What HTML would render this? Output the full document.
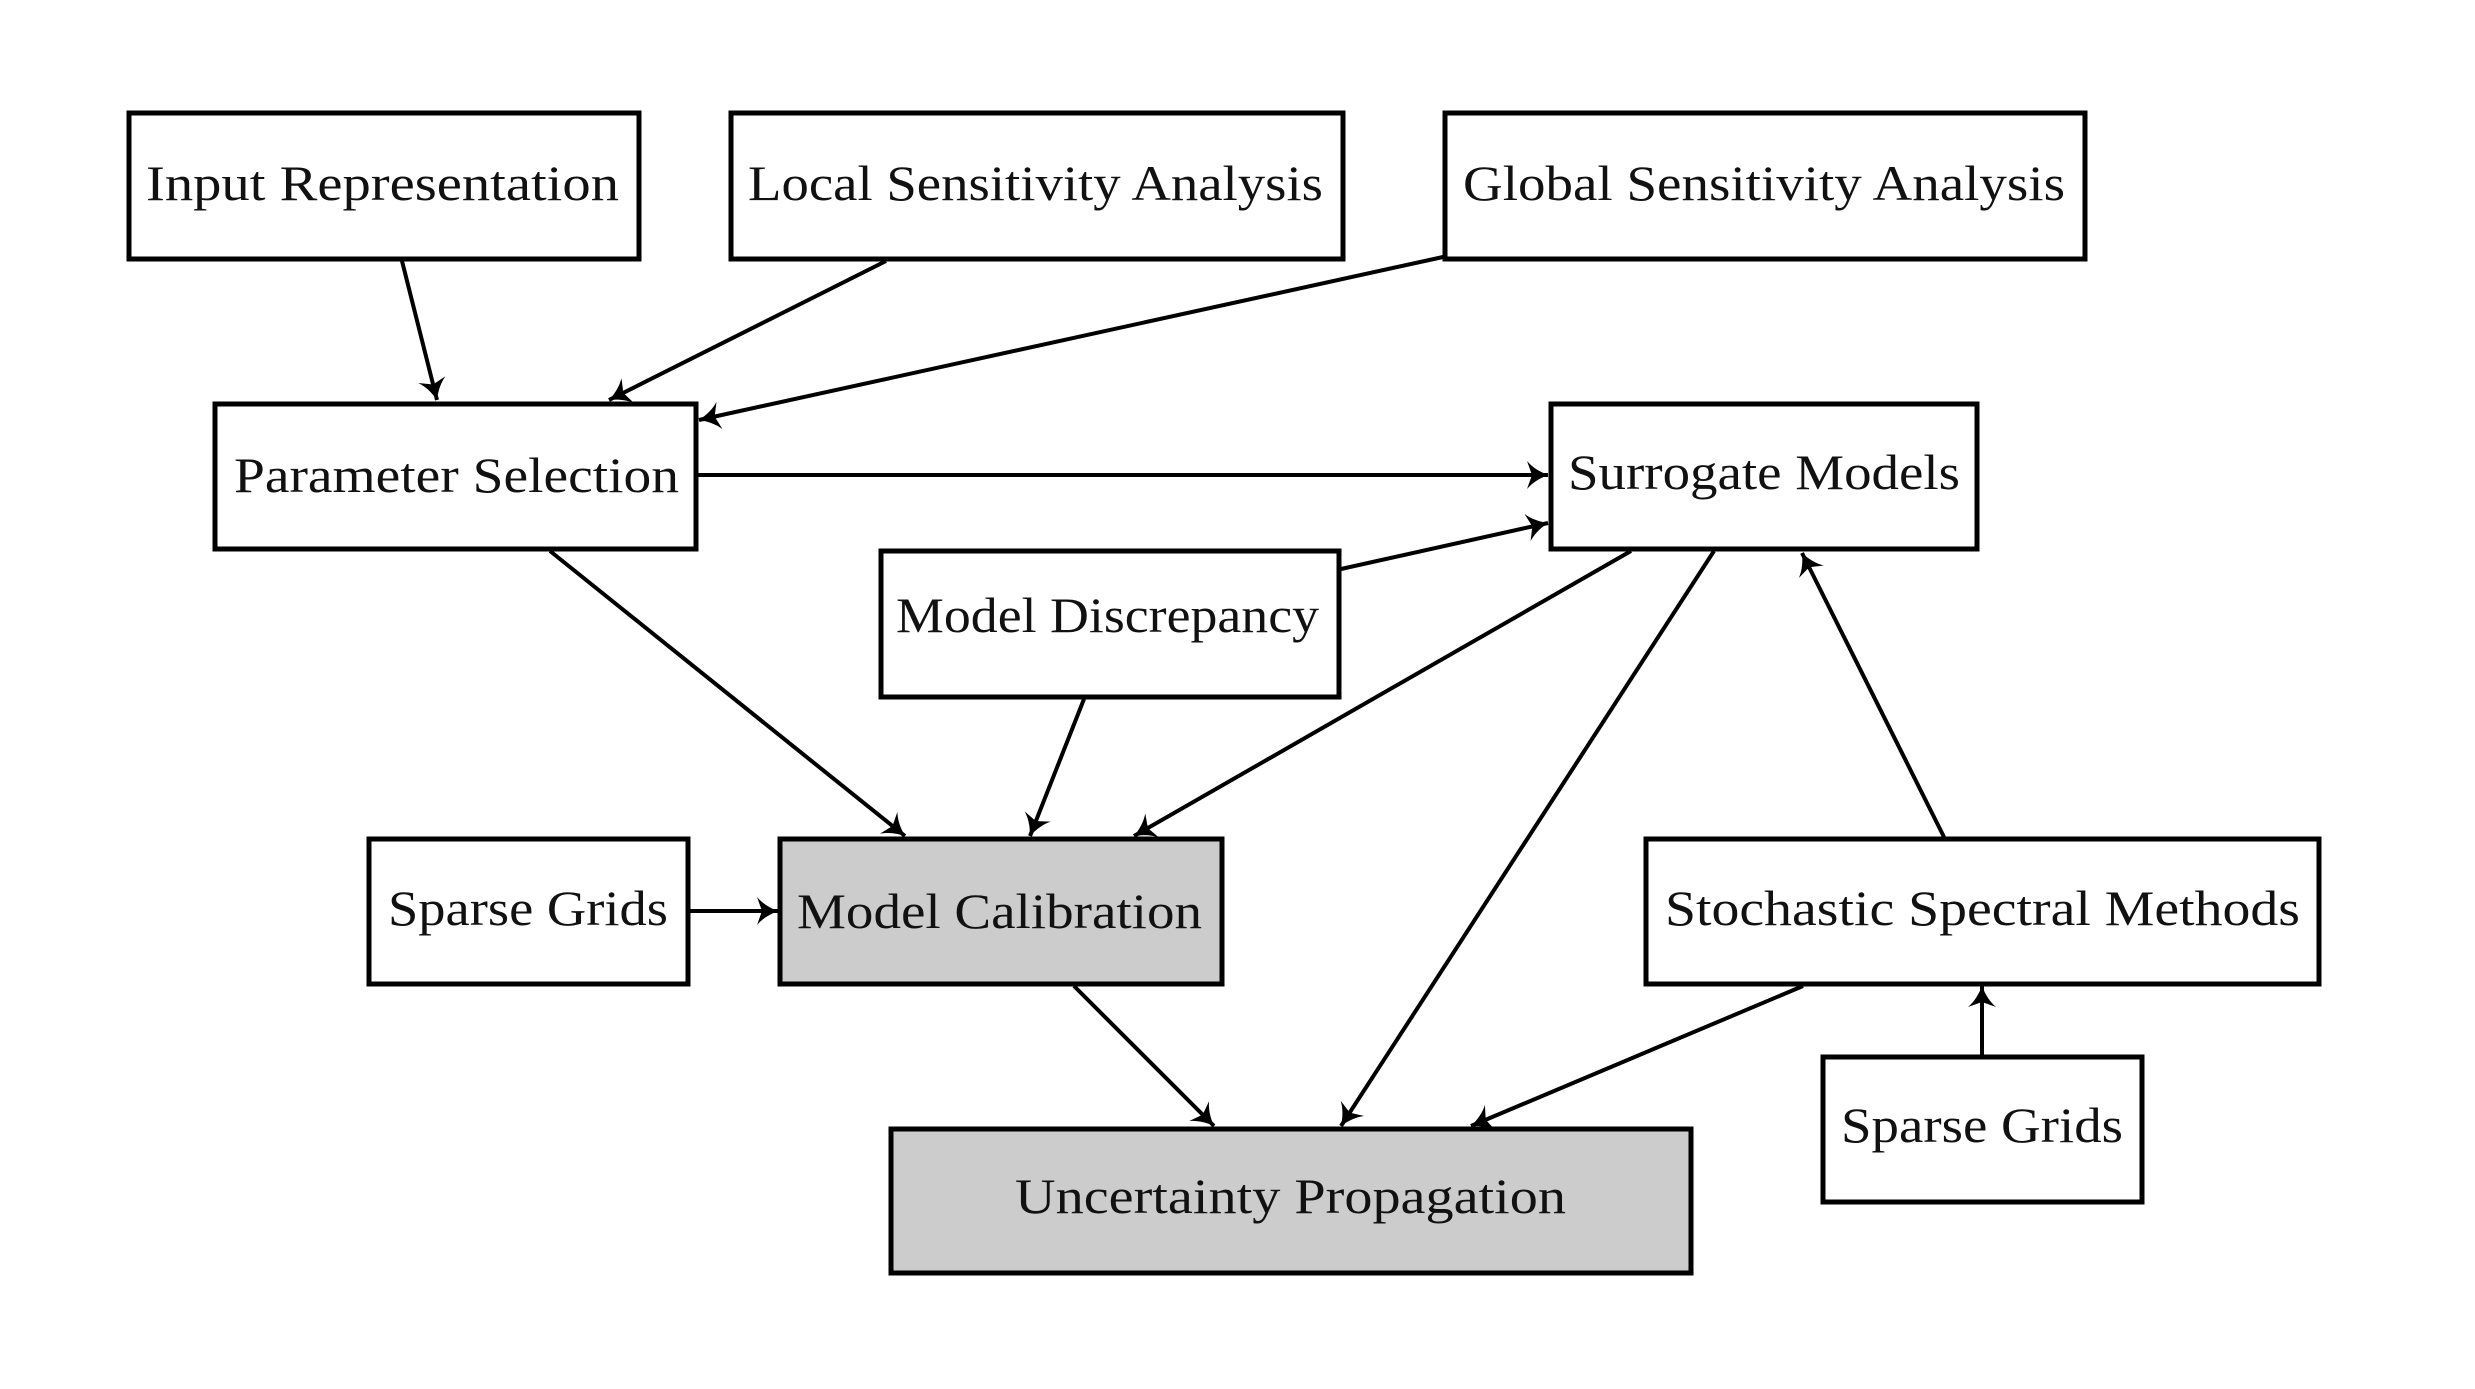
<!DOCTYPE html>
<html><head><meta charset="utf-8"><style>
html,body{margin:0;padding:0;background:#fff;}
svg{display:block;}
text{font-family:"Liberation Serif",serif;font-size:50px;fill:#111;}
</style></head><body>
<svg width="2475" height="1389" viewBox="0 0 2475 1389" xmlns="http://www.w3.org/2000/svg">
<defs>
<marker id="a" markerUnits="userSpaceOnUse" markerWidth="34" markerHeight="34" refX="25" refY="14" orient="auto">
<path d="M25,14 C16,10.5 9,6 4,0 L9,14 L4,28 C9,22 16,17.5 25,14 Z" fill="#000"/>
</marker>
</defs>
<g fill="none" stroke="#000" stroke-width="5">
<rect x="129" y="113" width="510" height="146" fill="#fff"/>
<rect x="731" y="113" width="612" height="146" fill="#fff"/>
<rect x="1445" y="113" width="640" height="146" fill="#fff"/>
<rect x="215" y="404" width="481" height="145" fill="#fff"/>
<rect x="1551" y="404" width="426" height="145" fill="#fff"/>
<rect x="881" y="551" width="458" height="146" fill="#fff"/>
<rect x="369" y="839" width="319" height="145" fill="#fff"/>
<rect x="780" y="839" width="442" height="145" fill="#ccc"/>
<rect x="1646" y="839" width="673" height="145" fill="#fff"/>
<rect x="1823" y="1057" width="319" height="145" fill="#fff"/>
<rect x="891" y="1129" width="800" height="144" fill="#ccc"/>
</g>
<g stroke="#000" stroke-width="4" fill="none" marker-end="url(#a)">
<line x1="402" y1="261" x2="437" y2="400"/>
<line x1="886" y1="261" x2="609" y2="400"/>
<line x1="1443" y1="257" x2="699" y2="420"/>
<line x1="698" y1="475" x2="1548" y2="475"/>
<line x1="1341" y1="569" x2="1548" y2="523"/>
<line x1="550" y1="551" x2="905" y2="836"/>
<line x1="1084" y1="699" x2="1030" y2="836"/>
<line x1="1631" y1="551" x2="1134" y2="836"/>
<line x1="1714" y1="551" x2="1341" y2="1126"/>
<line x1="1944" y1="837" x2="1802" y2="553"/>
<line x1="690" y1="911" x2="778" y2="911"/>
<line x1="1074" y1="986" x2="1214" y2="1126"/>
<line x1="1803" y1="986" x2="1471" y2="1126"/>
<line x1="1982" y1="1055" x2="1982" y2="986"/>
</g>
<text x="146" y="200" textLength="473" lengthAdjust="spacingAndGlyphs">Input Representation</text>
<text x="748" y="200" textLength="575" lengthAdjust="spacingAndGlyphs">Local Sensitivity Analysis</text>
<text x="1463" y="200" textLength="602" lengthAdjust="spacingAndGlyphs">Global Sensitivity Analysis</text>
<text x="234" y="492" textLength="445" lengthAdjust="spacingAndGlyphs">Parameter Selection</text>
<text x="1568" y="489" textLength="392" lengthAdjust="spacingAndGlyphs">Surrogate Models</text>
<text x="896" y="632" textLength="423" lengthAdjust="spacingAndGlyphs">Model Discrepancy</text>
<text x="388" y="925" textLength="280" lengthAdjust="spacingAndGlyphs">Sparse Grids</text>
<text x="797" y="928" textLength="405" lengthAdjust="spacingAndGlyphs">Model Calibration</text>
<text x="1665" y="925" textLength="635" lengthAdjust="spacingAndGlyphs">Stochastic Spectral Methods</text>
<text x="1841" y="1142" textLength="282" lengthAdjust="spacingAndGlyphs">Sparse Grids</text>
<text x="1015" y="1213" textLength="551" lengthAdjust="spacingAndGlyphs">Uncertainty Propagation</text>
</svg>
</body></html>
